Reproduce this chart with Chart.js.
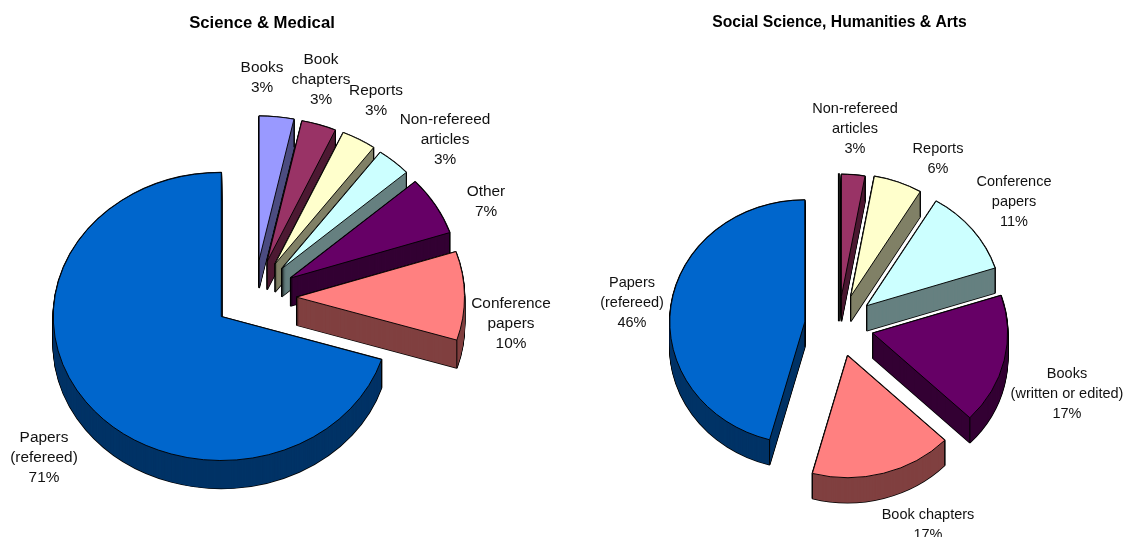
<!DOCTYPE html>
<html>
<head>
<meta charset="utf-8">
<title>Science vs social science outputs</title>
<script src="https://cdn.jsdelivr.net/npm/chart.js@4"></script>
<style>
    body { margin: 0; background: #fff; overflow: hidden; }
    canvas { position: absolute; top: 0; }
    #science { left: 0; }
    #social { left: 556px; }
</style>
</head>
<body>
<canvas id="science" width="556" height="537"></canvas>
<canvas id="social" width="567" height="537"></canvas>
<script>
const science_title = 'Science & Medical'
const science_categories = ['Books', 'Book\nchapters', 'Reports', 'Non-refereed\narticles', 'Other', 'Conference\npapers', 'Papers\n(refereed)']
const science_values = [3.35, 3.35, 3.35, 3.35, 6.6, 10, 70.6]
const science_colors = ['#9999ff', '#993366', '#ffffcc', '#ccffff', '#660066', '#ff8080', '#0066cc']

const social_title = 'Social Science, Humanities & Arts'
const social_categories = ['Non-refereed\narticles', 'Reports', 'Conference\npapers', 'Books\n(written or edited)', 'Book chapters', 'Papers\n(refereed)']
const social_values = [2.8, 5.8, 11.4, 17.2, 17, 45.8]
const social_colors = ['#993366', '#ffffcc', '#ccffff', '#660066', '#ff8080', '#0066cc']

// 3d look of each pie, and where the labels sit (canvas px, x centre / y of first line)
const science_look = {
    cx: 251.5, cy: 297.5, ky: 0.857, depth: 28, font_size: 15.4,
    explode: [44, 44, 45, 45, 45, 45, 37.5],
    nudge: [3, 2, 1, 0, 0, 0, 0],
    back_edge: [],
    label_x: [262, 321, 376, 445, 486, 511, 44],
    label_y: [68, 59.5, 90.5, 120, 191.5, 303.5, 437.5]
}
const social_look = {
    cx: 282.5, cy: 326, ky: 0.904, depth: 25, font_size: 14.5,
    explode: [33, 35, 36, 35, 34, 34],
    nudge: [0, 0, 0, 0, 0, 0],
    back_edge: [0],
    label_x: [299, 382, 458, 511, 372, 76],
    label_y: [109, 149, 181.5, 373.5, 515, 283]
}

function darker(hex) {
    const n = parseInt(hex.slice(1), 16)
    const half = v => Math.round(v / 2)
    return 'rgb(' + half(n >> 16) + ',' + half((n >> 8) & 255) + ',' + half(n & 255) + ')'
}

function draw_arc(ctx, arc, look, ax, ay, z, bg, border, width) {
    const saved = arc.options
    arc.options = {
        backgroundColor: bg, borderColor: border, borderWidth: width, borderAlign: 'center',
        offset: 0, spacing: 0, circular: true, borderRadius: 0, borderDash: [], borderDashOffset: 0
    }
    ctx.save()
    ctx.translate(ax, ay + z)
    ctx.scale(1, look.ky)
    ctx.translate(-arc.x, -arc.y)
    arc.draw(ctx)
    ctx.restore()
    arc.options = saved
}

function vline(ctx, x, y0, y1, width) {
    ctx.strokeStyle = '#000'
    ctx.lineWidth = width
    ctx.beginPath()
    ctx.moveTo(x, y0)
    ctx.lineTo(x, y1)
    ctx.stroke()
}

const pie3d = {
    id: 'pie3d',
    beforeDatasetsDraw(chart, args, look) {
        const ctx = chart.ctx
        const arcs = chart.getDatasetMeta(0).data
        const colors = chart.data.datasets[0].backgroundColor

        arcs.forEach((arc, i) => {
            const d = look.explode[i]
            const side = darker(colors[i])
            const mid = (arc.startAngle + arc.endAngle) / 2
            const ax = look.cx + Math.cos(mid) * d + look.nudge[i]
            const ay = look.cy + Math.sin(mid) * d * look.ky

            if (look.back_edge.includes(i)) {
                vline(ctx, ax - 2.5, ay - arc.outerRadius * look.ky - 1, ay + look.depth, 2)
            }

            // black silhouette first, side colour over it
            for (let z = look.depth; z >= 0; z--) draw_arc(ctx, arc, look, ax, ay, z, '#000', '#000', 1.6)
            for (let z = look.depth; z >= 0; z--) draw_arc(ctx, arc, look, ax, ay, z, side, side, 0)

            // corner edges, the ones at the back get covered by the top
            vline(ctx, ax, ay, ay + look.depth, 1)
            ;[arc.startAngle, arc.endAngle].forEach(a => {
                const x = ax + Math.cos(a) * arc.outerRadius
                const y = ay + Math.sin(a) * arc.outerRadius * look.ky
                vline(ctx, x, y, y + look.depth, 1)
            })

            draw_arc(ctx, arc, look, ax, ay, 0, colors[i], '#000', 1)
        })

        // data labels
        ctx.fillStyle = '#111'
        ctx.font = look.font_size + 'px "Liberation Sans", Arial, sans-serif'
        ctx.textAlign = 'center'
        ctx.textBaseline = 'middle'
        chart.data.labels.forEach((label, i) => {
            const lines = label.split('\n')
            lines.push(Math.round(chart.data.datasets[0].data[i]) + '%')
            lines.forEach((line, j) => {
                ctx.fillText(line, look.label_x[i], look.label_y[i] + j * 20)
            })
        })
        return false
    }
}

function make_chart(canvas, title, title_size, labels, values, colors, look, radius, pad_right) {
    return new Chart(canvas.getContext('2d'), {
        type: 'pie',
        data: {
            labels: labels,
            datasets: [{ data: values, backgroundColor: colors }]
        },
        plugins: [pie3d],
        options: {
            responsive: false,
            animation: false,
            radius: radius,
            layout: { padding: { right: pad_right } },
            plugins: {
                legend: { display: false },
                tooltip: { enabled: false },
                pie3d: look,
                title: {
                    display: true,
                    text: title,
                    color: '#000',
                    font: { family: '"Liberation Sans", Arial, sans-serif', size: title_size, weight: 'bold' },
                    padding: { top: 13, bottom: 0 }
                }
            }
        }
    })
}

make_chart(document.getElementById('science'), science_title, 16.7, science_categories, science_values, science_colors, science_look, 168, 32)
make_chart(document.getElementById('social'), social_title, 15.7, social_categories, social_values, social_colors, social_look, 135, 0)
</script>
</body>
</html>
